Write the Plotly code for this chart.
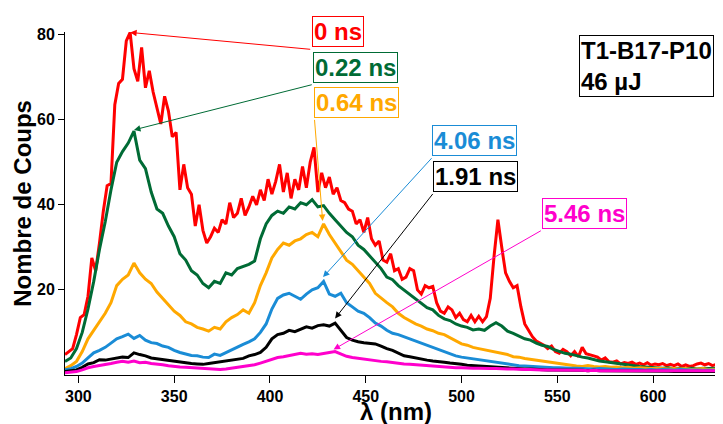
import plotly.graph_objects as go

# wavelength grids (nm)
wl_fine = list(range(293, 638, 2))   # 0 ns trace, sampled finer
wl = list(range(293, 636, 3))        # other delays

counts_0ns = [
    4.8, 5.5, 6.2, 9.5, 13.5, 14.2, 18.5, 27.5, 24.5, 31,
    38.5, 44.5, 45, 63.5, 68.5, 69.5, 78.5, 80.5, 72, 69,
    77, 67.5, 71.5, 66.5, 63, 59, 65.5, 62, 56, 57,
    43.5, 49.5, 44, 42.5, 35, 40, 34, 31, 32.5, 34.5,
    33.5, 36.5, 35.5, 40.5, 37, 38, 41.5, 37.5, 39.5, 42,
    40, 43.5, 41, 46, 42.5, 45.5, 49.5, 43, 47.5, 41.5,
    46, 43.5, 49, 44, 50, 53.5, 43, 47.5, 44, 46.5,
    42.5, 44, 41, 40.5, 39, 38.5, 35.5, 36.5, 33.5, 37,
    32, 30.5, 31.5, 27, 26.5, 28.5, 24.5, 25, 22.5, 23,
    25, 24.5, 20, 19, 21, 20.5, 20.8, 17, 15, 14.5,
    16, 15.3, 13.5, 14.5, 13, 12.5, 14, 12.5, 13.8, 12.5,
    13.7, 18, 28, 36.5, 30, 24, 22, 20.5, 21, 16,
    12, 10.5, 9, 8, 7.5, 7, 6.2, 6.8, 5.5, 5.1,
    6, 5.5, 4.5, 5.5, 4.3, 6.5, 5, 4.8, 4.5, 4.2,
    3.5, 4, 3.1, 3, 3.3, 2.6, 2.9, 2.7, 3, 2.5,
    2.8, 2.4, 2.9, 2.3, 2.6, 2.4, 2.7, 2.2, 2.5, 2.2,
    2.6, 2, 2.4, 2, 2.2, 2.6, 2.8, 2.4, 2.7, 2.2,
    2.5, 2.4, 2.6,
]

counts_022ns = [
    3.2, 4, 6.2, 10, 15.5, 22, 29.5, 36, 43.5, 50,
    52.5, 54.5, 57.3, 50.5, 48.5, 43, 39, 38, 35, 32.5,
    28.5, 27, 24.5, 23.5, 21.5, 20.5, 22, 21.5, 24, 23.5,
    25, 25.5, 26, 26.8, 32, 35.5, 37.5, 38.5, 38, 39.5,
    39, 40.5, 40, 41.2, 39.5, 39.8, 38, 36.5, 35, 33.5,
    32.5, 30.5, 29.5, 28, 26.5, 25, 23, 22.4, 21, 20,
    19, 18, 17, 15.8, 15.3, 14, 13.2, 12.8, 12, 11.5,
    11.2, 10.6, 10.8, 10.5, 11.5, 12.3, 11.5, 10.3, 9.8, 9.2,
    8.5, 8.2, 7.5, 7, 6.7, 6, 5.5, 5.1, 4.9, 4.5,
    4.2, 4, 3.6, 3.3, 3.1, 2.9, 2.7, 2.5, 2.4, 2.2,
    2, 1.9, 1.8, 1.7, 1.6, 1.7, 1.5, 1.6, 1.5, 1.6,
    1.4, 1.6, 1.5, 1.6, 1.6,
]

counts_064ns = [
    1.5, 2.2, 3.2, 5.5, 8.5, 10.5, 12.5, 14.5, 17, 21,
    22.5, 23.5, 26.3, 24, 22.5, 21.5, 19.5, 18, 16.5, 15,
    14, 12.5, 12, 11.2, 10.8, 10.3, 11.2, 10.8, 12.5, 13.5,
    14.2, 15.3, 14.5, 17, 21, 24, 27.5, 29.5, 31, 30.5,
    31.5, 32, 33, 33.5, 32.5, 35.5, 33, 31, 29, 27,
    26, 24.5, 23.2, 21.5, 19.2, 18, 17, 16, 14.5, 13.5,
    12.8, 12, 11.5, 10.8, 10.4, 9.8, 9.5, 8.8, 8, 7.3,
    7, 6.5, 6.2, 5.9, 5.7, 5.4, 5, 4.8, 4.3, 4.2,
    3.9, 3.7, 3.4, 3.2, 3, 2.8, 2.6, 2.4, 2.3, 2.1,
    2, 2.2, 2, 1.9, 2, 1.8, 1.9, 1.7, 1.8, 1.6,
    1.7, 1.6, 1.5, 1.6, 1.5, 1.4, 1.5, 1.4, 1.5, 1.3,
    1.4, 1.5, 1.3, 1.4, 1.4,
]

counts_406ns = [
    1.2, 1.5, 2, 2.8, 4, 5.2, 5.8, 6.5, 7.5, 8.5,
    9, 9.6, 8.6, 9.3, 8.2, 7.6, 7.4, 6.8, 6.5, 5.8,
    5.3, 5, 4.6, 4.5, 4.2, 4.1, 4.9, 4.6, 5.3, 5.8,
    6.6, 7.2, 7.8, 8.5, 10, 12, 15.5, 18, 18.8, 19.2,
    18.5, 17.8, 19, 20, 20.5, 22, 19, 18.5, 19.2, 17,
    16, 15, 14.5, 13.5, 12.2, 11.5, 10.5, 9.8, 9.5, 9,
    8.5, 8, 7.5, 7, 6.5, 5.9, 5.5, 5, 4.5, 4.2,
    4, 3.8, 3.5, 3.4, 3.1, 2.9, 2.7, 2.5, 2.4, 2.2,
    2.1, 2, 1.9, 1.8, 1.8, 1.7, 1.7, 1.6, 1.6, 1.6,
    1.5, 1.5, 1.4, 1.5, 1.4, 1.4, 1.3, 1.4, 1.3, 1.3,
    1.3, 1.2, 1.3, 1.2, 1.3, 1.2, 1.2, 1.3, 1.2, 1.2,
    1.2, 1.1, 1.2, 1.2, 1.1,
]

counts_191ns = [
    0.8, 1, 1.2, 1.8, 2.6, 2.9, 3.6, 3.5, 3.7, 4,
    4.2, 4.1, 5.2, 4.8, 4.5, 4, 3.8, 3.6, 3.4, 3.2,
    3.1, 2.9, 2.7, 2.6, 2.5, 2.7, 2.9, 3, 3.2, 3.4,
    3.7, 3.9, 4.5, 4.8, 5.3, 6.5, 8.5, 9.5, 9.8, 10.5,
    10.2, 10.8, 11.3, 11, 11.6, 11.8, 11.5, 12.2, 10.5, 8.8,
    8.2, 7.8, 7.6, 7.5, 7.3, 6.8, 6.2, 5.8, 5.2, 4.5,
    4.3, 4, 3.7, 3.5, 3.3, 3.2, 3, 2.8, 2.7, 2.5,
    2.3, 2.2, 2.1, 2, 1.9, 1.8, 1.7, 1.6, 1.5, 1.5,
    1.4, 1.4, 1.3, 1.3, 1.2, 1.2, 1.2, 1.1, 1.1, 1.1,
    1.1, 1, 1.1, 1, 1, 1, 1, 0.9, 1, 0.9,
    0.9, 0.9, 1, 0.9, 0.9, 0.9, 0.8, 0.9, 0.9, 0.8,
    0.9, 0.8, 0.9, 0.8, 0.9,
]

counts_546ns = [
    0.5, 0.6, 0.8, 1.2, 1.7, 2, 2.2, 2.5, 2.7, 3,
    3.2, 3, 3.3, 2.9, 3, 2.7, 2.6, 2.4, 2.2, 2,
    1.9, 1.8, 1.7, 1.6, 1.5, 1.5, 1.4, 1.3, 1.4, 1.6,
    1.8, 1.9, 2.1, 2.4, 2.8, 3.2, 3.6, 4.1, 4.3, 4.6,
    4.9, 5.1, 4.9, 5, 4.8, 5.1, 5.3, 5.5, 5, 4.4,
    4.1, 3.9, 3.7, 3.5, 3.3, 3.2, 3.1, 2.9, 2.8, 2.6,
    2.5, 2.4, 2.3, 2.1, 2, 1.9, 1.9, 1.8, 1.7, 1.7,
    1.6, 1.6, 1.6, 1.5, 1.5, 1.5, 1.4, 1.4, 1.4, 1.3,
    1.3, 1.3, 1.2, 1.2, 1.2, 1.2, 1.1, 1.1, 1.1, 1.1,
    1.1, 1, 1.1, 1, 1, 1, 1, 1, 1, 1,
    1, 0.9, 1, 0.9, 1, 0.9, 0.9, 1, 0.9, 0.9,
    0.9, 1, 0.9, 0.9, 1,
]

delay_labels = ["0 ns", "0.22 ns", "0.64 ns", "4.06 ns", "1.91 ns", "5.46 ns"]
x_ticks = [300, 350, 400, 450, 500, 550, 600]
y_ticks = [20, 40, 60, 80]

RED = "#ff0000"
GREEN = "#006b35"
ORANGE = "#ffa800"
BLUE = "#1a8cd6"
BLACK = "#000000"
MAGENTA = "#ff00cc"
FONT = "Liberation Sans, Arial, sans-serif"

series = [
    (wl_fine, counts_0ns, RED),
    (wl, counts_022ns, GREEN),
    (wl, counts_064ns, ORANGE),
    (wl, counts_406ns, BLUE),
    (wl, counts_191ns, BLACK),
    (wl, counts_546ns, MAGENTA),
]

fig = go.Figure()
for (x, y, color), name in zip(series, delay_labels):
    fig.add_trace(
        go.Scatter(x=x, y=y, mode="lines", name=name,
                   line=dict(color=color, width=3))
    )

# label boxes: (text, colour, left, top) in paper fractions of the plot area
boxes = [
    ("0 ns", RED, 0.375, 1.047),
    ("0.22 ns", GREEN, 0.377, 0.941),
    ("0.64 ns", ORANGE, 0.379, 0.840),
    ("4.06 ns", BLUE, 0.5585, 0.728),
    ("1.91 ns", BLACK, 0.560, 0.625),
    ("5.46 ns", MAGENTA, 0.7254, 0.515),
]
annotations = []
for text, color, bx, by in boxes:
    annotations.append(dict(
        text=text, xref="paper", yref="paper", x=bx, y=by,
        xanchor="left", yanchor="top", showarrow=False,
        font=dict(family=FONT, size=24, color=color, weight="bold"),
        bordercolor=color, borderwidth=1, borderpad=1,
        bgcolor="rgba(255,255,255,0)",
    ))

# arrows: tip (x, y) -> tail (ax, ay), in data coordinates
arrows = [
    (RED, 327, 80.5, 421.8, 76.5),
    (GREEN, 329, 57.6, 422.6, 68.3),
    (ORANGE, 427.5, 36.2, 423.2, 60.3),
    (BLUE, 427.7, 23.0, 485.1, 51.3),
    (BLACK, 434.0, 13.3, 485.6, 42.9),
    (MAGENTA, 433.2, 6.0, 542.2, 34.1),
]
for color, x, y, ax, ay in arrows:
    annotations.append(dict(
        x=x, y=y, ax=ax, ay=ay, xref="x", yref="y", axref="x", ayref="y",
        text="", showarrow=True, arrowhead=2, arrowsize=1.3,
        arrowwidth=1, arrowcolor=color,
    ))

annotations.append(dict(
    text="T1-B17-P10<br>46 µJ", xref="paper", yref="paper", x=0.7807, y=0.992,
    xanchor="left", yanchor="top", align="left", showarrow=False,
    font=dict(family=FONT, size=24, color=BLACK, weight="bold"),
    bordercolor=BLACK, borderwidth=1, borderpad=1,
))

# axis titles
annotations.append(dict(
    text="λ (nm)", xref="paper", yref="paper", x=0.503, y=-0.105,
    xanchor="center", yanchor="middle", showarrow=False,
    font=dict(family=FONT, size=24, color=BLACK, weight="bold"),
))
annotations.append(dict(
    text="Nombre de Coups", xref="paper", yref="paper", x=-0.065, y=0.5,
    xanchor="center", yanchor="middle", textangle=-90, showarrow=False,
    font=dict(family=FONT, size=24, color=BLACK, weight="bold"),
))

# the page body adds an 8px margin, so the figure is 8px smaller each way
fig.update_layout(
    width=715,
    height=416,
    margin=dict(l=57, r=0, t=24, b=49),
    paper_bgcolor="white",
    plot_bgcolor="white",
    showlegend=False,
    annotations=annotations,
    xaxis=dict(
        range=[293, 636.5], tickvals=x_ticks, ticks="outside", ticklen=7,
        tickwidth=1, tickcolor="black", showline=True, linecolor="black",
        linewidth=1, showgrid=False, zeroline=False,
        tickfont=dict(family=FONT, size=16, color="black", weight="bold"),
    ),
    yaxis=dict(
        range=[0, 80.6], tickvals=y_ticks, ticks="outside", ticklen=6,
        tickwidth=1, tickcolor="black", showline=True, linecolor="black",
        linewidth=1, showgrid=False, zeroline=False,
        tickfont=dict(family=FONT, size=16, color="black", weight="bold"),
    ),
)

fig.write_html("out.html")
